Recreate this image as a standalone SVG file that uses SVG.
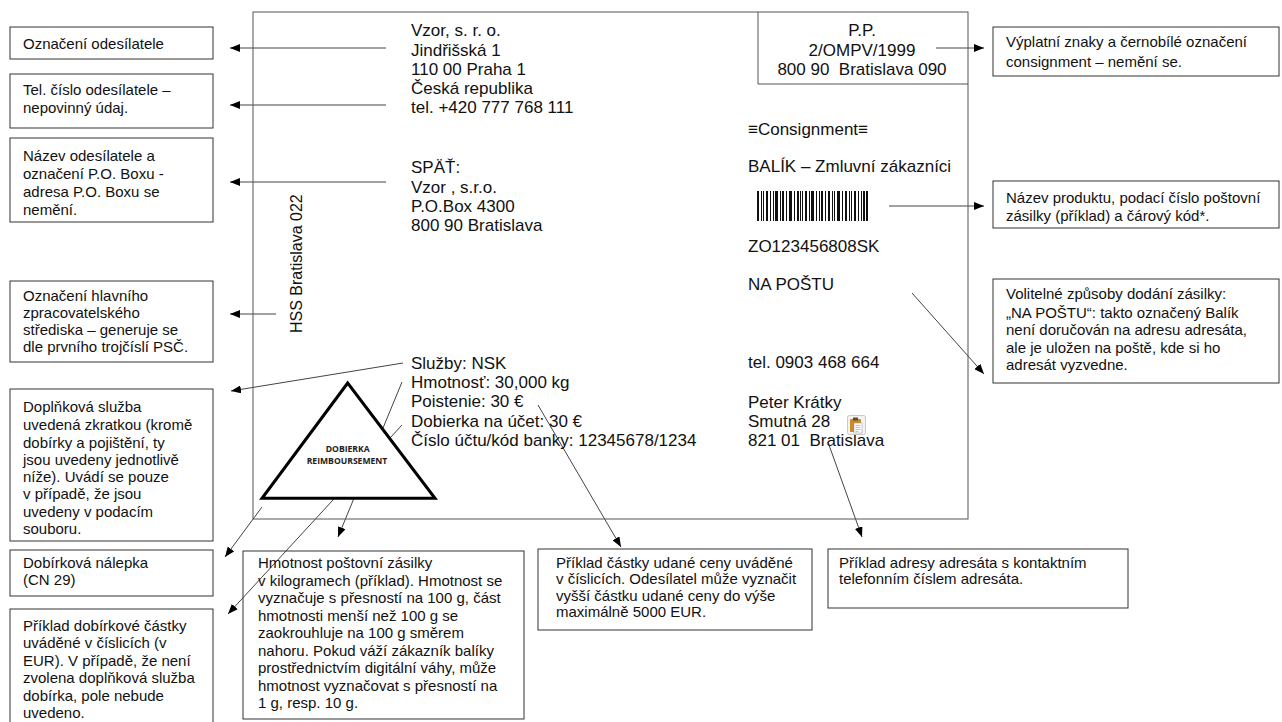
<svg xmlns="http://www.w3.org/2000/svg" width="1282" height="722" viewBox="0 0 1282 722">
<style>
text{font-family:"Liberation Sans",Arial,sans-serif;fill:#111}
.lb{font-size:17px}
.bx{font-size:15px}
.box{fill:none;stroke:#333;stroke-width:1}
.ln{stroke:#444;stroke-width:1;fill:none}
.pre{white-space:pre}
.tri{font-family:"Open Sans","Liberation Sans",sans-serif;font-weight:bold;font-size:8.6px;fill:#222}
</style>
<defs>
<marker id="ah" markerUnits="userSpaceOnUse" viewBox="0 0 10 8" refX="10" refY="4" markerWidth="10" markerHeight="8" orient="auto">
<path d="M0,0 L10,4 L0,8 z" fill="#000"/>
</marker>
</defs>
<rect width="1282" height="722" fill="#fff"/>

<g id="connectors" class="ln" marker-end="url(#ah)">
<line x1="386" y1="48" x2="230" y2="48"/>
<line x1="386" y1="105" x2="230" y2="105"/>
<line x1="386" y1="182" x2="230" y2="182"/>
<line x1="276" y1="314" x2="230" y2="314"/>
<line x1="403" y1="363" x2="231" y2="391"/>
<line x1="262" y1="507" x2="225" y2="557"/>
<line x1="402" y1="425" x2="228" y2="614"/>
<line x1="402" y1="382" x2="338" y2="537"/>
<line x1="538" y1="405" x2="621" y2="547"/>
<line x1="829" y1="445" x2="862" y2="537"/>
<line x1="912" y1="293" x2="984" y2="374"/>
<line x1="889" y1="206" x2="984" y2="206"/>
<line x1="936" y1="48" x2="984" y2="48"/>
</g>

<g id="label">
<rect x="253" y="12" width="715" height="507" fill="none" stroke="#555" stroke-width="1"/>
<path d="M758,12 V84 H968" fill="none" stroke="#555" stroke-width="1"/>
<g class="lb">
<text x="411" y="36">Vzor, s. r. o.</text>
<text x="411" y="55.5">Jindřišská 1</text>
<text x="411" y="74.5">110 00 Praha 1</text>
<text x="411" y="94">Česká republika</text>
<text x="411" y="113">tel. +420 777 768 111</text>
<text x="411" y="173">SPÄŤ:</text>
<text x="411" y="192.5">Vzor , s.r.o.</text>
<text x="411" y="212">P.O.Box 4300</text>
<text x="411" y="231">800 90 Bratislava</text>
<text x="862" y="36" text-anchor="middle">P.P.</text>
<text x="862" y="55.5" text-anchor="middle">2/OMPV/1999</text>
<text class="pre" x="862" y="74.5" text-anchor="middle" xml:space="preserve">800 90  Bratislava 090</text>
<text x="748" y="134.5">≡Consignment≡</text>
<text x="748" y="172">BALÍK – Zmluvní zákazníci</text>
<text x="748" y="252">ZO123456808SK</text>
<text x="748" y="290">NA POŠTU</text>
<text x="748" y="368">tel. 0903 468 664</text>
<text x="748" y="408">Peter Krátky</text>
<text x="748" y="427">Smutná 28</text>
<text class="pre" x="748" y="446" xml:space="preserve">821 01  Bratislava</text>
<text x="411" y="369">Služby: NSK</text>
<text x="411" y="388.2">Hmotnosť: 30,000 kg</text>
<text x="411" y="407.4">Poistenie: 30 €</text>
<text x="411" y="426.6">Dobierka na účet: 30 €</text>
<text x="411" y="445.8">Číslo účtu/kód banky: 12345678/1234</text>
</g>
<text x="0" y="0" font-size="16" transform="translate(302,333) rotate(-90)">HSS Bratislava 022</text>
<path fill="#111" d="M757,191h2v30h-2z M761,191h1v30h-1z M763,191h1v30h-1z M766,191h2v30h-2z M770,191h1v30h-1z M773,191h1v30h-1z M775,191h3v30h-3z M780,191h1v30h-1z M782,191h2v30h-2z M786,191h1v30h-1z M789,191h3v30h-3z M794,191h1v30h-1z M797,191h2v30h-2z M800,191h1v30h-1z M802,191h1v30h-1z M805,191h2v30h-2z M809,191h1v30h-1z M811,191h3v30h-3z M816,191h1v30h-1z M819,191h1v30h-1z M821,191h2v30h-2z M825,191h1v30h-1z M828,191h2v30h-2z M832,191h1v30h-1z M834,191h1v30h-1z M837,191h3v30h-3z M842,191h1v30h-1z M845,191h2v30h-2z M849,191h1v30h-1z M851,191h1v30h-1z M854,191h2v30h-2z M858,191h1v30h-1z M861,191h1v30h-1z M863,191h2v30h-2z M866,191h2v30h-2z"/>
<g id="clipboard-icon">
<rect x="847.5" y="415.5" width="18" height="19" rx="2" fill="#f3f3f3" stroke="#c8c8c8"/>
<rect x="850" y="419" width="11" height="13" rx="1" fill="#c98a2c"/>
<rect x="853" y="417.5" width="5" height="3" fill="#6b4a1a"/>
<rect x="854" y="423" width="8" height="10" fill="#fff" stroke="#999" stroke-width="0.5"/>
<path d="M855.5,425.5h5 M855.5,427.5h5 M855.5,429.5h5 M855.5,431.5h3" stroke="#999" stroke-width="0.6"/>
</g>
</g>

<g id="triangle">
<polygon points="347.7,383 262,498.3 435,498.3" fill="#fff" stroke="#000" stroke-width="3"/>
<text class="tri" x="347.7" y="451.5" text-anchor="middle">DOBIERKA</text>
<text class="tri" x="347" y="464" text-anchor="middle">REIMBOURSEMENT</text>
</g>

<g id="box-odesilatel">
<rect class="box" x="10" y="27" width="203" height="32"/>
<text class="bx" x="23" y="48.5">Označení odesílatele</text>
</g>
<g id="box-tel">
<rect class="box" x="10" y="74" width="203" height="54"/>
<text class="bx" x="23" y="94.5">Tel. číslo odesílatele –</text>
<text class="bx" x="23" y="112.5">nepovinný údaj.</text>
</g>
<g id="box-pobox">
<rect class="box" x="10" y="138" width="203" height="84"/>
<text class="bx" x="23" y="160.5">Název odesílatele a</text>
<text class="bx" x="23" y="178.5">označení P.O. Boxu -</text>
<text class="bx" x="23" y="196.5">adresa P.O. Boxu se</text>
<text class="bx" x="23" y="214.5">nemění.</text>
</g>
<g id="box-hss">
<rect class="box" x="10" y="281" width="203" height="81"/>
<text class="bx" x="23" y="301">Označení hlavního</text>
<text class="bx" x="23" y="318.3">zpracovatelského</text>
<text class="bx" x="23" y="335">střediska – generuje se</text>
<text class="bx" x="23" y="351.7">dle prvního trojčíslí PSČ.</text>
</g>
<g id="box-sluzba">
<rect class="box" x="10" y="389" width="203" height="152"/>
<text class="bx" x="23" y="412.3">Doplňková služba</text>
<text class="bx" x="23" y="430">uvedená zkratkou (kromě</text>
<text class="bx" x="23" y="447.7">dobírky a pojištění, ty</text>
<text class="bx" x="23" y="465">jsou uvedeny jednotlivě</text>
<text class="bx" x="23" y="481.7">níže). Uvádí se pouze</text>
<text class="bx" x="23" y="499">v případě, že jsou</text>
<text class="bx" x="23" y="516.7">uvedeny v podacím</text>
<text class="bx" x="23" y="534.3">souboru.</text>
</g>
<g id="box-nalepka">
<rect class="box" x="10" y="550" width="203" height="46"/>
<text class="bx" x="23" y="568.3">Dobírková nálepka</text>
<text class="bx" x="23" y="585">(CN 29)</text>
</g>
<g id="box-dobirka">
<rect class="box" x="10" y="609" width="203" height="117"/>
<text class="bx" x="23" y="631">Příklad dobírkové částky</text>
<text class="bx" x="23" y="648.3">uváděné v číslicích (v</text>
<text class="bx" x="23" y="665.7">EUR). V případě, že není</text>
<text class="bx" x="23" y="683.3">zvolena doplňková služba</text>
<text class="bx" x="23" y="701">dobírka, pole nebude</text>
<text class="bx" x="23" y="718.3">uvedeno.</text>
</g>
<g id="box-hmotnost">
<rect class="box" x="243" y="551" width="281" height="168"/>
<text class="bx" x="258" y="568.3">Hmotnost poštovní zásilky</text>
<text class="bx" x="258" y="585.7">v kilogramech (příklad). Hmotnost se</text>
<text class="bx" x="258" y="603.3">vyznačuje s přesností na 100 g, část</text>
<text class="bx" x="258" y="621">hmotnosti menší než 100 g se</text>
<text class="bx" x="258" y="638.3">zaokrouhluje na 100 g směrem</text>
<text class="bx" x="258" y="655.7">nahoru. Pokud váží zákazník balíky</text>
<text class="bx" x="258" y="673.3">prostřednictvím digitální váhy, může</text>
<text class="bx" x="258" y="690.7">hmotnost vyznačovat s přesností na</text>
<text class="bx" x="258" y="707.7">1 g, resp. 10 g.</text>
</g>
<g id="box-cena">
<rect class="box" x="538" y="549" width="274" height="81"/>
<text class="bx" x="556" y="568.3">Příklad částky udané ceny uváděné</text>
<text class="bx" x="556" y="584.3">v číslicích. Odesílatel může vyznačit</text>
<text class="bx" x="556" y="601">vyšší částku udané ceny do výše</text>
<text class="bx" x="556" y="616.7">maximálně 5000 EUR.</text>
</g>
<g id="box-adresa">
<rect class="box" x="828" y="549" width="300" height="59"/>
<text class="bx" x="839" y="568.3">Příklad adresy adresáta s kontaktním</text>
<text class="bx" x="839" y="584.3">telefonním číslem adresáta.</text>
</g>
<g id="box-vyplatni">
<rect class="box" x="993" y="27" width="286" height="49"/>
<text class="bx" x="1006" y="47">Výplatní znaky a černobílé označení</text>
<text class="bx" x="1006" y="66.5">consignment – nemění se.</text>
</g>
<g id="box-produkt">
<rect class="box" x="993" y="181" width="286" height="47"/>
<text class="bx" x="1006" y="202.5">Název produktu, podací číslo poštovní</text>
<text class="bx" x="1006" y="221">zásilky (příklad) a čárový kód*.</text>
</g>
<g id="box-dodani">
<rect class="box" x="993" y="279" width="286" height="104"/>
<text class="bx" x="1006" y="298.5">Volitelné způsoby dodání zásilky:</text>
<text class="bx" x="1006" y="317.5">„NA POŠTU“: takto označený Balík</text>
<text class="bx" x="1006" y="335">není doručován na adresu adresáta,</text>
<text class="bx" x="1006" y="352.5">ale je uložen na poště, kde si ho</text>
<text class="bx" x="1006" y="370">adresát vyzvedne.</text>
</g>
</svg>
